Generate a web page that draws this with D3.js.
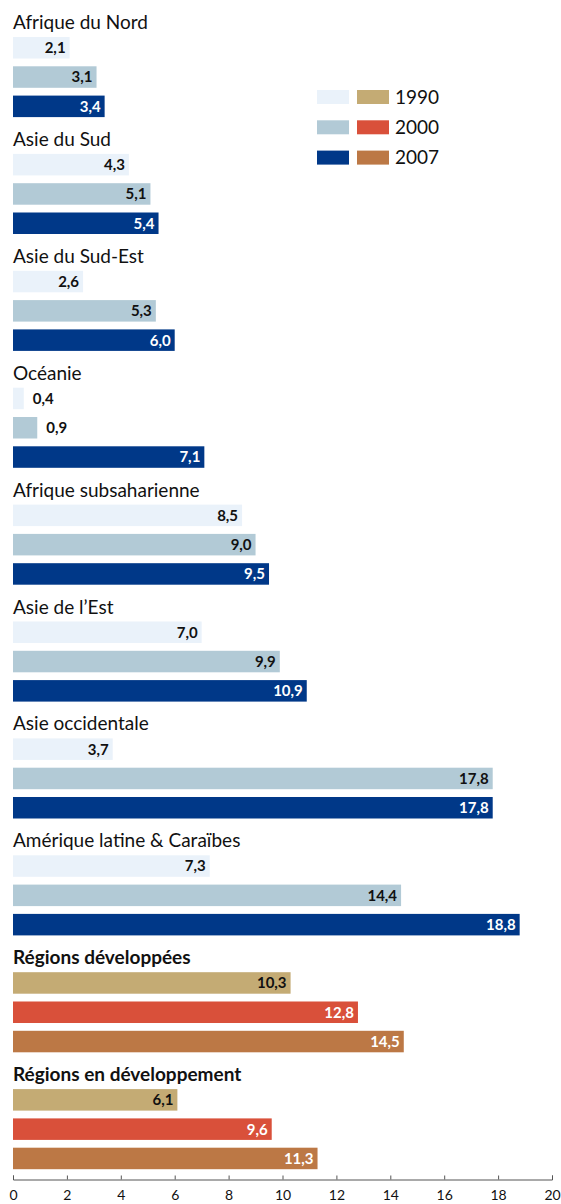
<!DOCTYPE html>
<html>
<head>
<meta charset="utf-8">
<script src="https://cdn.jsdelivr.net/npm/d3@7"></script>
<style>
  body { margin: 0; background: #fff; }
  svg { display: block; font-family: Lato, "Open Sans", sans-serif; }
  .title { font-size: 19px; fill: #111; }
  .title.bold { font-weight: 700; }
  .value { font-size: 15px; font-weight: 700; }
  .legend text { font-size: 19px; fill: #111; }
  .axis text { font-size: 14px; fill: #111; font-family: Lato, sans-serif; }
  .axis path, .axis line { stroke: #555; }
</style>
</head>
<body>
<script>
//Global variables
const width = 561;
const height = 1204;
const left = 13;
const right = 552;

//Data
const regions = ["Afrique du Nord", "Asie du Sud", "Asie du Sud-Est", "Océanie",
  "Afrique subsaharienne", "Asie de l\u2019Est", "Asie occidentale",
  "Amérique latine & Caraïbes", "Régions développées", "Régions en développement"];
const years = ["1990", "2000", "2007"];
const v1990 = [2.1, 4.3, 2.6, 0.4, 8.5, 7.0, 3.7, 7.3, 10.3, 6.1];
const v2000 = [3.1, 5.1, 5.3, 0.9, 9.0, 9.9, 17.8, 14.4, 12.8, 9.6];
const v2007 = [3.4, 5.4, 6.0, 7.1, 9.5, 10.9, 17.8, 18.8, 14.5, 11.3];
const aggregates = ["Régions développées", "Régions en développement"];
const xTicks = [0, 2, 4, 6, 8, 10, 12, 14, 16, 18, 20];

//Colours: regional (blues) and aggregate (warm) palettes
const blues = ["#eaf2fa", "#b2cad6", "#003888"];
const warms = ["#c4ab74", "#d9503a", "#bc7845"];
const textBlues = ["#111", "#111", "#fff"];
const textWarms = ["#111", "#fff", "#fff"];

const series = [v1990, v2000, v2007];

//Scales
const xScale = d3.scaleLinear().domain([0, 20]).range([left, right]);

const yGroup = d3.scaleBand()
  .domain(regions)
  .range([12, 12 + 116.9 * regions.length]);

const yBar = d3.scaleBand()
  .domain(years)
  .range([0, 80.1])
  .paddingInner(0.266);

const svg = d3.select("body").append("svg")
  .attr("width", width)
  .attr("height", height);

//Groups
const groups = svg.selectAll("g.group")
  .data(regions)
  .join("g")
  .attr("class", "group")
  .attr("transform", d => "translate(0," + yGroup(d) + ")");

groups.append("text")
  .attr("class", d => aggregates.includes(d) ? "title bold" : "title")
  .attr("x", left)
  .attr("y", 17)
  .text(d => d);

groups.each(function(region, i) {
  const g = d3.select(this);
  const agg = aggregates.includes(region);
  const rows = years.map((y, j) => ({ year: y, value: series[j][i], j: j }));

  g.selectAll("rect")
    .data(rows)
    .join("rect")
    .attr("x", xScale(0))
    .attr("y", d => 25 + yBar(d.year))
    .attr("width", d => xScale(d.value) - xScale(0))
    .attr("height", yBar.bandwidth())
    .attr("fill", d => agg ? warms[d.j] : blues[d.j]);

  g.selectAll("text.value")
    .data(rows)
    .join("text")
    .attr("class", "value")
    .attr("y", d => 25 + yBar(d.year) + yBar.bandwidth() / 2)
    .attr("dy", "0.36em")
    .text(d => d3.format(".1f")(d.value).replace(".", ","))
    .each(function(d) {
      const w = xScale(d.value) - xScale(0);
      const t = d3.select(this);
      if (w < 36) {
        t.attr("x", xScale(d.value) + 9).attr("text-anchor", "start").attr("fill", "#111");
      } else {
        t.attr("x", xScale(d.value) - 4).attr("text-anchor", "end")
          .attr("fill", agg ? textWarms[d.j] : textBlues[d.j]);
      }
    });
});

//Legend
const legend = svg.append("g")
  .attr("class", "legend")
  .attr("transform", "translate(317,90)");

const legendRows = legend.selectAll("g")
  .data(years)
  .join("g")
  .attr("transform", (d, i) => "translate(0," + i * 30.3 + ")");

legendRows.append("rect")
  .attr("width", 32).attr("height", 14)
  .attr("fill", (d, i) => blues[i]);

legendRows.append("rect")
  .attr("x", 40)
  .attr("width", 32).attr("height", 14)
  .attr("fill", (d, i) => warms[i]);

legendRows.append("text")
  .attr("x", 78)
  .attr("y", 7)
  .attr("dy", "0.36em")
  .text(d => d);

//Axis
const bottomAxis = d3.axisTop(xScale)
  .tickValues(xTicks)
  .tickSize(4)
  .tickSizeOuter(4)
  .tickFormat(d => d);

const axisG = svg.append("g")
  .attr("class", "axis")
  .attr("transform", "translate(0,1179.5)")
  .call(bottomAxis);

axisG.selectAll("text")
  .attr("y", 16)
  .attr("dy", "0.32em");
</script>
</body>
</html>
